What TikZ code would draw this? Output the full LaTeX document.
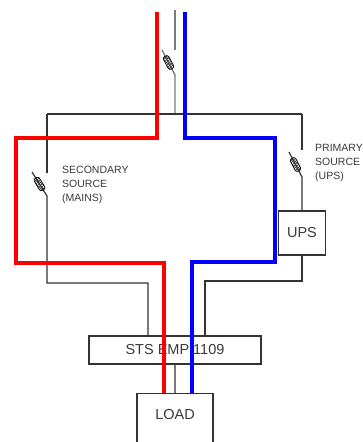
\documentclass[tikz,border=0pt]{standalone}
\usepackage{fontspec}
\setmainfont{Liberation Sans}
\usetikzlibrary{patterns,calc}
\definecolor{wire}{HTML}{333333}
\definecolor{topwire}{HTML}{7A7A7A}
\definecolor{txt}{HTML}{3A3A3A}
\tikzset{
  wirestyle/.style={draw=wire, line width=1.2pt},
  graywire/.style={draw=topwire, line width=1.4pt},
  redpath/.style={draw=red, line width=4pt},
  bluepath/.style={draw=blue, line width=4pt},
  box/.style={draw=wire, line width=1.2pt, fill=white, inner sep=0pt, font=\fontsize{14.5}{16}\selectfont, text=txt},
  lbl/.style={anchor=west, align=left, inner sep=0pt, text=txt, font=\fontsize{10.5}{14}\selectfont},
  fuseel/.style={draw=black, line width=0.7pt, rounded corners=2pt, minimum width=14pt, minimum height=6pt, inner sep=0pt, pattern=crosshatch, pattern color=black!80},
}
\begin{document}
\begin{tikzpicture}[x=1pt,y=-1pt]
\useasboundingbox (0,0) rectangle (363,442);
\clip (0,0) rectangle (363,442);
\fill[white] (0,0) rectangle (363,442);

% boxes
\node[box, minimum width=172pt, minimum height=28pt] (sts) at (175,350) {STS EMP 1109};
\node[box, minimum width=47pt, minimum height=44pt] (ups) at (302,233) {UPS};
\node[box, minimum width=76pt, minimum height=70pt, anchor=north] (load) at (175,393) {};
\node[text=txt, font=\fontsize{14.5}{16}\selectfont, inner sep=0pt] (loadtxt) at (175,415) {LOAD};

% top feed with fuse
\coordinate (feedtop) at (175,10);
\coordinate (feedgap) at (175,50);
\coordinate (feedblade) at (162,50);
\coordinate (feedpiv) at (175,75);
\coordinate (busL) at (47,114);
\coordinate (busR) at (302,114);
\coordinate (busM) at (175,114);
\draw[graywire] (feedtop) -- (feedgap);
\draw[graywire] (feedblade) -- (feedpiv) -- (busM);
\node[fuseel, rotate=-62] (fuseT) at ($(feedblade)!0.5!(feedpiv)$) {};

\draw[wirestyle] (busL) -- (busR);

% secondary (mains) branch
\coordinate (secgap) at (47,173);
\coordinate (secblade) at (32,172);
\coordinate (secpiv) at (47,196);
\coordinate (secbot) at (47,283);
\coordinate (secin) at (148,283);
\draw[wirestyle] (busL) -- (secgap);
\draw[wirestyle] (secblade) -- (secpiv) -- (secbot) -- (secin) -- (secin |- sts.north);
\node[fuseel, rotate=-58] (fuseS) at ($(secblade)!0.5!(secpiv)$) {};

% primary (UPS) branch
\coordinate (prigap) at (302,150);
\coordinate (priblade) at (289,152);
\coordinate (pripiv) at (302,177);
\coordinate (pribot) at (302,281);
\coordinate (priin) at (205,281);
\draw[wirestyle] (busR) -- (prigap);
\draw[wirestyle] (priblade) -- (pripiv) -- (ups.north);
\draw[wirestyle] (ups.south) -- (pribot) -- (priin) -- (priin |- sts.north);
\node[fuseel, rotate=-62] (fuseP) at ($(priblade)!0.5!(pripiv)$) {};

% output
\draw[graywire] (sts.south) -- (load.north);

% labels
\node[lbl] (seclbl) at (62,185) {SECONDARY\\SOURCE\\(MAINS)};
\node[lbl] (prilbl) at (315,163) {PRIMARY\\SOURCE\\(UPS)};

% red and blue paths
\coordinate (r0) at (157,12);
\coordinate (r1) at (157,138);
\coordinate (r2) at (16,138);
\coordinate (r3) at (16,263);
\coordinate (r4) at (164,263);
\draw[redpath] (r0) -- (r1) -- (r2) -- (r3) -- (r4) -- (r4 |- load.north);
\coordinate (b0) at (185,12);
\coordinate (b1) at (185,138);
\coordinate (b2) at (275,138);
\coordinate (b3) at (275,262);
\coordinate (b4) at (192,262);
\draw[bluepath] (b0) -- (b1) -- (b2) -- (b3) -- (b4) -- (b4 |- load.north);
\end{tikzpicture}
\end{document}
